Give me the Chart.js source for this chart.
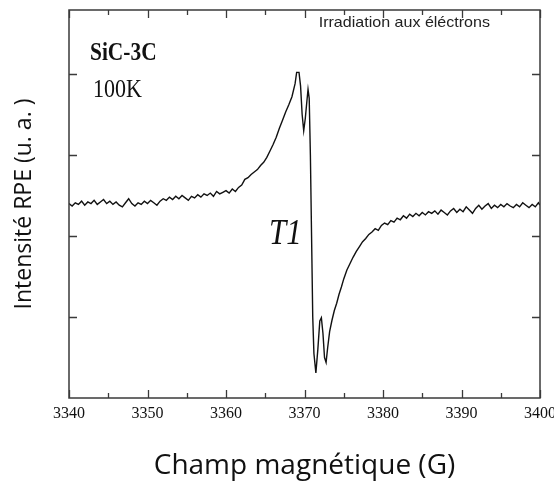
<!DOCTYPE html>
<html>
<head>
<meta charset="utf-8">
<script src="https://cdn.jsdelivr.net/npm/chart.js@4/dist/chart.umd.min.js"></script>
<style>
  html, body { margin: 0; padding: 0; background: #ffffff; }
  #wrap { position: relative; width: 554px; height: 483px; }
</style>
</head>
<body>
<div id="wrap"><canvas id="c" width="554" height="483"></canvas></div>
<script>
// ---- Data ----
const fieldG = [
  3340.0, 3340.4, 3340.8, 3341.2, 3341.6, 3342.0, 3342.4, 3342.8, 3343.2, 3343.6,
  3344.0, 3344.4, 3344.8, 3345.2, 3345.6, 3346.0, 3346.4, 3346.8, 3347.2, 3347.6,
  3348.0, 3348.4, 3348.8, 3349.2, 3349.6, 3350.0, 3350.4, 3350.8, 3351.2, 3351.6,
  3352.0, 3352.4, 3352.8, 3353.2, 3353.6, 3354.0, 3354.4, 3354.8, 3355.2, 3355.6,
  3356.0, 3356.4, 3356.8, 3357.2, 3357.6, 3358.0, 3358.4, 3358.8, 3359.2, 3359.6,
  3360.0, 3360.4, 3360.8, 3361.2, 3361.6, 3362.0, 3362.4, 3362.8, 3363.2, 3363.6,
  3364.0, 3364.4, 3364.8, 3365.2, 3365.6, 3366.0, 3366.4, 3366.8, 3367.2, 3367.6,
  3368.0, 3368.4, 3368.8, 3369.0, 3369.3, 3369.5, 3369.7, 3369.9, 3370.1, 3370.3,
  3370.45, 3370.6, 3370.75, 3370.9, 3371.05, 3371.2, 3371.45, 3371.7, 3371.95, 3372.15,
  3372.35, 3372.55, 3372.75, 3372.95, 3373.2, 3373.5, 3373.8, 3374.1, 3374.4, 3374.7,
  3375.0, 3375.4, 3375.8, 3376.2, 3376.6, 3377.0, 3377.4, 3377.8, 3378.2, 3378.6,
  3379.0, 3379.4, 3379.8, 3380.2, 3380.6, 3381.0, 3381.4, 3381.8, 3382.2, 3382.6,
  3383.0, 3383.4, 3383.8, 3384.2, 3384.6, 3385.0, 3385.4, 3385.8, 3386.2, 3386.6,
  3387.0, 3387.4, 3387.8, 3388.2, 3388.6, 3389.0, 3389.4, 3389.8, 3390.2, 3390.6,
  3391.0, 3391.4, 3391.8, 3392.2, 3392.6, 3393.0, 3393.4, 3393.8, 3394.2, 3394.6,
  3395.0, 3395.4, 3395.8, 3396.2, 3396.6, 3397.0, 3397.4, 3397.8, 3398.2, 3398.6,
  3399.0, 3399.4, 3399.8, 3400.0
];
const intensityRPE = [
  2.40, 2.37, 2.41, 2.39, 2.43, 2.38, 2.42, 2.40, 2.44, 2.39,
  2.42, 2.45, 2.40, 2.43, 2.39, 2.42, 2.38, 2.36, 2.41, 2.46,
  2.40, 2.37, 2.41, 2.39, 2.43, 2.40, 2.44, 2.41, 2.38, 2.43,
  2.46, 2.44, 2.48, 2.45, 2.49, 2.46, 2.50, 2.47, 2.44, 2.49,
  2.47, 2.51, 2.48, 2.52, 2.50, 2.53, 2.49, 2.55, 2.52, 2.54,
  2.56, 2.53, 2.58, 2.55, 2.60, 2.63, 2.70, 2.72, 2.76, 2.79,
  2.82, 2.87, 2.91, 2.97, 3.05, 3.13, 3.22, 3.33, 3.43, 3.53,
  3.62, 3.72, 3.88, 4.02, 4.02, 3.85, 3.50, 3.30, 3.45, 3.66,
  3.81, 3.70, 3.00, 2.00, 1.00, 0.55, 0.31, 0.60, 0.95, 0.99,
  0.80, 0.50, 0.44, 0.62, 0.82, 0.96, 1.08, 1.17, 1.28, 1.37,
  1.47, 1.58, 1.66, 1.74, 1.81, 1.87, 1.93, 1.97, 2.02, 2.05,
  2.09, 2.07, 2.13, 2.16, 2.14, 2.19, 2.17, 2.22, 2.20, 2.25,
  2.22, 2.27, 2.24, 2.28, 2.25, 2.29, 2.26, 2.30, 2.28, 2.31,
  2.27, 2.32, 2.29, 2.26, 2.31, 2.34, 2.29, 2.33, 2.30, 2.36,
  2.32, 2.28, 2.34, 2.38, 2.33, 2.37, 2.40, 2.34, 2.38, 2.35,
  2.39, 2.36, 2.40, 2.37, 2.35, 2.39, 2.36, 2.41, 2.38, 2.35,
  2.39, 2.36, 2.41, 2.38
];
const xTickValues = [3340, 3350, 3360, 3370, 3380, 3390, 3400];
const xMinorTickValues = [3345, 3355, 3365, 3375, 3385, 3395];
const yTickValues = [1, 2, 3, 4];
const xTitle = 'Champ magnétique (G)';
const yTitle = 'Intensité RPE (u. a. )';
const sampleLabel = 'SiC-3C';
const tempLabel = '100K';
const conditionLabel = 'Irradiation aux éléctrons';
const signalLabel = 'T1';

// ---- Plugin: frame, inward ticks on all four sides, annotations ----
const framePlugin = {
  id: 'frame',
  afterDraw(chart) {
    const {ctx, chartArea: a, scales: {x, y}} = chart;
    ctx.save();
    ctx.strokeStyle = '#3a3a3a';
    ctx.lineWidth = 1.5;
    ctx.strokeRect(a.left, a.top, a.right - a.left, a.bottom - a.top);
    ctx.lineWidth = 1.3;
    ctx.beginPath();
    const xt = (v, len) => {
      const px = Math.round(x.getPixelForValue(v)) + 0.5;
      ctx.moveTo(px, a.bottom); ctx.lineTo(px, a.bottom - len);
      ctx.moveTo(px, a.top); ctx.lineTo(px, a.top + len);
    };
    xTickValues.forEach(v => xt(v, 8));
    xMinorTickValues.forEach(v => xt(v, 5));
    yTickValues.forEach(v => {
      const py = Math.round(y.getPixelForValue(v)) + 0.5;
      ctx.moveTo(a.left, py); ctx.lineTo(a.left + 8, py);
      ctx.moveTo(a.right, py); ctx.lineTo(a.right - 8, py);
    });
    ctx.stroke();

    ctx.fillStyle = '#111';
    ctx.textBaseline = 'alphabetic';
    ctx.textAlign = 'left';
    // SiC-3C
    ctx.save();
    ctx.translate(a.left + 21, a.top + 50);
    ctx.scale(1.02, 1.15);
    ctx.font = 'bold 21px "Liberation Serif", "DejaVu Serif", serif';
    ctx.fillText(sampleLabel, 0, 0);
    ctx.restore();
    // 100K
    ctx.save();
    ctx.translate(a.left + 24, a.top + 87);
    ctx.scale(1, 1.1);
    ctx.font = '22px "Liberation Serif", "DejaVu Serif", serif';
    ctx.fillText(tempLabel, 0, 0);
    ctx.restore();
    // Irradiation aux éléctrons
    ctx.font = '15px "Liberation Sans", Arial, sans-serif';
    ctx.textAlign = 'right';
    ctx.fillStyle = '#222';
    ctx.save();
    ctx.translate(a.right - 50, a.top + 17);
    ctx.scale(1.07, 1);
    ctx.fillText(conditionLabel, 0, 0);
    ctx.restore();
    // T1
    ctx.textAlign = 'left';
    ctx.fillStyle = '#111';
    ctx.save();
    ctx.translate(269, 244);
    ctx.scale(1.03, 1.22);
    ctx.font = 'italic 30px "Liberation Serif", "DejaVu Serif", serif';
    ctx.fillText(signalLabel, 0, 0);
    ctx.restore();
    ctx.restore();
  }
};

new Chart(document.getElementById('c'), {
  type: 'line',
  data: {
    datasets: [{
      data: fieldG.map((g, i) => ({x: g, y: intensityRPE[i]})),
      borderColor: '#111111',
      borderWidth: 1.4,
      pointRadius: 0,
      tension: 0,
      fill: false
    }]
  },
  options: {
    responsive: false,
    animation: false,
    events: [],
    layout: {padding: {top: 10, right: 14, left: 0, bottom: 0}},
    plugins: {legend: {display: false}, tooltip: {enabled: false}},
    scales: {
      x: {
        type: 'linear',
        position: 'bottom',
        min: 3340,
        max: 3400,
        afterBuildTicks(s) { s.ticks = xTickValues.map(v => ({value: v})); },
        ticks: {
          color: '#111',
          font: {family: '"Liberation Serif", "DejaVu Serif", serif', size: 16},
          padding: 6,
          maxRotation: 0,
          autoSkip: false,
          callback: v => String(v)
        },
        grid: {display: false, drawTicks: false},
        border: {display: false},
        title: {
          display: true,
          text: xTitle,
          color: '#111',
          font: {family: '"Open Sans", "Noto Sans", sans-serif', size: 28},
          padding: {top: 0, bottom: 0}
        },
        afterFit(s) { s.height = 85; s.paddingLeft = 0; s.paddingRight = 0; }
      },
      y: {
        type: 'linear',
        position: 'left',
        min: 0,
        max: 4.79,
        afterBuildTicks(s) { s.ticks = yTickValues.map(v => ({value: v})); },
        ticks: {display: false},
        grid: {display: false, drawTicks: false},
        border: {display: false},
        title: {
          display: true,
          text: yTitle,
          color: '#111',
          font: {family: '"Open Sans", "Noto Sans", sans-serif', size: 23},
          padding: {top: 11, bottom: 0}
        },
        afterFit(s) { s.width = 69; s.paddingTop = 0; s.paddingBottom = 0; }
      }
    }
  },
  plugins: [framePlugin]
});
</script>
</body>
</html>
